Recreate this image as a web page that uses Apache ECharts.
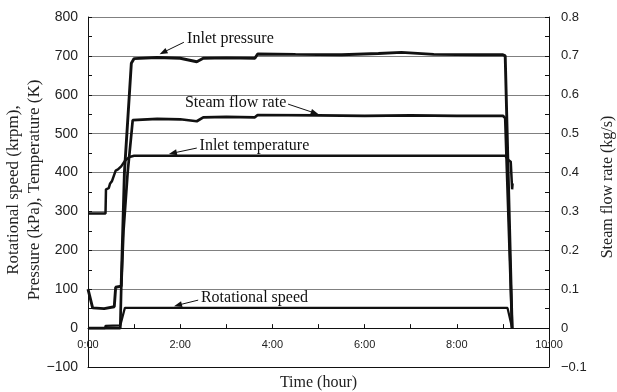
<!DOCTYPE html>
<html>
<head>
<meta charset="utf-8">
<script src="https://cdn.jsdelivr.net/npm/echarts@6/dist/echarts.min.js"></script>
<style>
html,body{margin:0;padding:0;background:#fff;}
#main{width:617px;height:392px;}
</style>
</head>
<body>
<div id="main"></div>
<script>
// ---- data (time in hours) ----
var pressureData = [[0,100],[0.02,100],[0.1,52],[0.35,50],[0.37,53],[0.57,55],[0.6,105],[0.72,108],[0.74,112],[0.79,400],[0.94,681],[1.0,693],[1.5,696],[2.0,694],[2.36,685],[2.5,694],[3.0,695],[3.62,694],[3.68,705],[4.5,704],[5.5,703],[6.3,706],[6.8,709],[7.5,704],[8.5,703],[9.0,703],[9.05,700],[9.2,0]];
var steamData = [[0,0],[0.7,0],[0.72,0.1],[0.77,0.25],[0.86,0.4],[0.97,0.535],[1.5,0.538],[2.0,0.537],[2.36,0.532],[2.5,0.542],[3.0,0.543],[3.62,0.542],[3.68,0.548],[5.0,0.547],[6.0,0.546],[7.0,0.547],[8.0,0.546],[9.0,0.546],[9.05,0.54],[9.2,0]];
var temperatureData = [[0,295],[0.38,295],[0.39,357],[0.45,360],[0.48,372],[0.52,378],[0.56,381],[0.6,405],[0.65,408],[0.72,416],[0.8,430],[0.9,440],[1.0,443],[5.0,443],[9.05,443],[9.12,432],[9.17,428],[9.2,357],[9.21,372]];
var speedData = [[0,0],[0.37,0],[0.38,6],[0.7,7],[0.8,52],[5.0,52],[9.1,52],[9.2,0]];
var annotations = [
  {text:'Inlet pressure', tail:[2.08,735], head:[1.63,709], label:[2.15,743], align:'left'},
  {text:'Steam flow rate', tail:[4.34,576], head:[4.92,553], label:[4.3,580], align:'right'},
  {text:'Inlet temperature', tail:[2.36,463], head:[1.84,450], label:[2.42,470], align:'left'},
  {text:'Rotational speed', tail:[2.39,72], head:[1.95,59], label:[2.45,78], align:'left'}
];
var leftAxisTitle = ['Rotational speed (krpm),', 'Pressure (kPa), Temperature (K)'];
var rightAxisTitle = 'Steam flow rate (kg/s)';
var xAxisTitle = 'Time (hour)';

var chart = echarts.init(document.getElementById('main'), null, {renderer:'canvas'});
var sans = 'Liberation Sans';
var serif = 'Liberation Serif';
var ink = '#111';

function lineSeries(name, data, yIdx, width, extra){
  var s = {name:name, type:'line', data:data, yAxisIndex:yIdx, xAxisIndex:0, showSymbol:false,
    lineStyle:{color:ink, width:width}, silent:true, animation:false, z:3};
  if (extra) for (var k in extra) s[k]=extra[k];
  return s;
}

var arrowLines = annotations.map(function(a){
  return [{coord:a.tail, symbol:'none'},{coord:a.head, symbol:'triangle', symbolSize:[6,8]}];
});

var option = {
  backgroundColor:'#fff',
  animation:false,
  grid:{left:88, right:68, top:17, bottom:25, outerBoundsMode:'none', containLabel:false},
  xAxis:[{
    type:'value', min:0, max:10, interval:2, position:'bottom',
    axisLine:{onZero:false, lineStyle:{color:ink, width:1}},
    axisTick:{show:false},
    axisLabel:{formatter:function(v){return v+':00';}, fontFamily:sans, fontSize:11, color:'#222', margin:-28, hideOverlap:false},
    splitLine:{show:false},
    name:xAxisTitle, nameLocation:'middle', nameGap:8,
    nameTextStyle:{fontFamily:serif, fontSize:16, color:'#222', verticalAlign:'top'}
  },{
    type:'value', min:0, max:10, interval:2, position:'bottom',
    axisLine:{onZero:true, onZeroAxisIndex:0, lineStyle:{color:ink, width:1}},
    axisTick:{show:true, inside:true, length:4, lineStyle:{color:ink}},
    minorTick:{show:true, splitNumber:2, length:4, lineStyle:{color:ink}},
    axisLabel:{show:false},
    splitLine:{show:false}
  }],
  yAxis:[{
    type:'value', min:-100, max:800, interval:100,
    axisLine:{show:true, onZero:false, lineStyle:{color:ink}},
    axisTick:{show:true, inside:true, length:4, lineStyle:{color:ink}},
    minorTick:{show:true, splitNumber:2, length:4, lineStyle:{color:ink}},
    axisLabel:{formatter:function(v){return v<0?'\u2212'+(-v):String(v);}, fontFamily:sans, fontSize:14, color:'#222', margin:10},
    splitLine:{show:true, lineStyle:{color:'#808080', width:1}}
  },{
    type:'value', min:-0.1, max:0.8, interval:0.1, position:'right',
    axisLine:{show:true, onZero:false, lineStyle:{color:ink}},
    axisTick:{show:true, inside:true, length:4, lineStyle:{color:ink}},
    minorTick:{show:true, splitNumber:2, length:4, lineStyle:{color:ink}},
    axisLabel:{formatter:function(v){var r=Math.round(v*10)/10; if(r===0) return '0'; return r<0?'\u2212'+Math.abs(r).toFixed(1):r.toFixed(1);}, fontFamily:sans, fontSize:13, color:'#222', margin:12},
    splitLine:{show:false}
  }],
  series:[
    lineSeries('Inlet pressure', pressureData, 0, 2.9),
    lineSeries('Steam flow rate', steamData, 1, 2.7),
    lineSeries('Inlet temperature', temperatureData, 0, 2.5),
    lineSeries('Rotational speed', speedData, 0, 2.2, {markLine:{silent:true, animation:false, label:{show:false},
      lineStyle:{color:ink, width:1, type:'solid'}, emphasis:{disabled:true}, data:arrowLines}})
  ]
};
chart.setOption(option);

var g = [];
annotations.forEach(function(a){
  var p = chart.convertToPixel({gridIndex:0}, a.label);
  g.push({type:'text', x:p[0], y:p[1], silent:true, z:10,
    style:{text:a.text, font:'16px "Liberation Serif"', fill:'#111', textAlign:a.align, textVerticalAlign:'middle'}});
});
g.push({type:'text', x:14, y:190, rotation:Math.PI/2, silent:true,
  style:{text:leftAxisTitle[0], font:'17px "Liberation Serif"', fill:'#222', textAlign:'center', textVerticalAlign:'middle'}});
g.push({type:'text', x:35, y:190, rotation:Math.PI/2, silent:true,
  style:{text:leftAxisTitle[1], font:'17px "Liberation Serif"', fill:'#222', textAlign:'center', textVerticalAlign:'middle'}});
g.push({type:'text', x:608, y:187, rotation:Math.PI/2, silent:true,
  style:{text:rightAxisTitle, font:'16px "Liberation Serif"', fill:'#222', textAlign:'center', textVerticalAlign:'middle'}});
chart.setOption({graphic:g});
</script>
</body>
</html>
